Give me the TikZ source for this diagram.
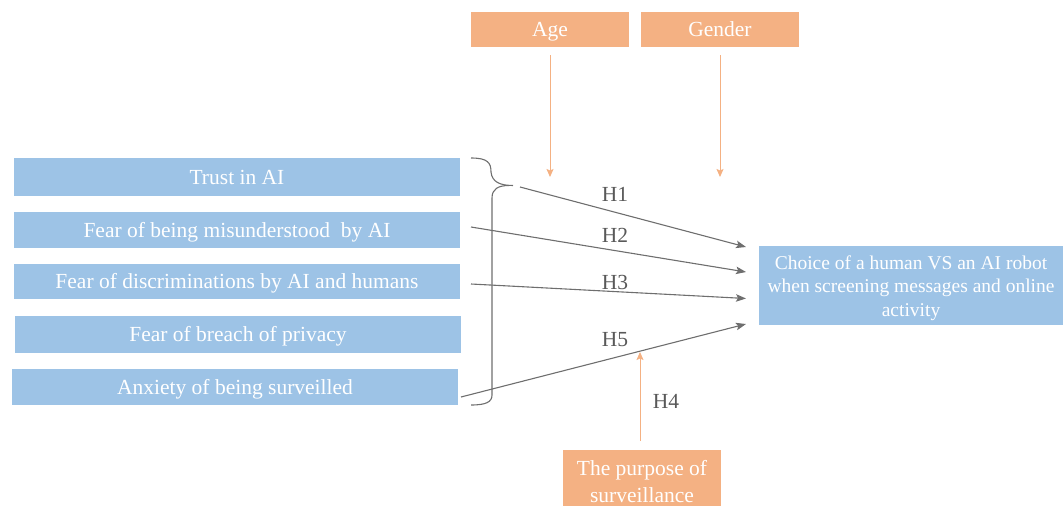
\documentclass[tikz,border=0pt]{standalone}
\usepackage{fontspec}
\setmainfont{Liberation Serif}
\usetikzlibrary{arrows.meta}
\definecolor{boxblue}{HTML}{9DC3E6}
\definecolor{boxorange}{HTML}{F4B183}
\definecolor{linegray}{HTML}{6E6E6E}
\definecolor{labgray}{HTML}{595959}
\begin{document}
\begin{tikzpicture}[x=1pt,y=-1pt,
  bluebox/.style={fill=boxblue, text=white, inner sep=0pt, align=center,
    font=\fontsize{21.5}{26}\selectfont, text height=14.3pt, text depth=0pt},
  choicebox/.style={fill=boxblue, text=white, inner sep=0pt, align=center,
    font=\fontsize{19.5}{23.5}\selectfont, text height=61.5pt, text depth=0pt},
  orangebox/.style={fill=boxorange, text=white, inner sep=0pt, align=center,
    font=\fontsize{21.5}{26.7}\selectfont, text height=14.3pt, text depth=0pt},
  hyparrow/.style={draw=linegray, line width=1.1pt, -{Stealth[length=10pt,width=7.5pt,inset=2pt]}},
  modarrow/.style={draw=boxorange, line width=1pt, -{Stealth[length=8pt,width=7pt,inset=1.5pt]}},
  hlabel/.style={text=labgray, font=\fontsize{21.5}{26}\selectfont, inner sep=0pt},
  bracepath/.style={draw=linegray, line width=1.1pt}
]
\useasboundingbox (0,0) rectangle (1064,506);

% moderator boxes
\node[orangebox, minimum width=158pt, minimum height=35pt] (age) at (550,29.5) {Age};
\node[orangebox, minimum width=158pt, minimum height=35pt] (gender) at (720,29.5) {Gender};
\node[orangebox, minimum width=158pt, minimum height=56pt, text height=48pt] (purpose) at (642,478) {The purpose of\\surveillance};

% predictor boxes
\node[bluebox, minimum width=446pt, minimum height=38pt] (trust) at (237,177) {Trust in AI};
\node[bluebox, minimum width=446pt, minimum height=36pt] (misund) at (237,230) {Fear of being misunderstood\ \ by AI};
\node[bluebox, minimum width=446pt, minimum height=35pt] (discr) at (237,281.5) {Fear of discriminations by AI and humans};
\node[bluebox, minimum width=446pt, minimum height=37pt] (privacy) at (238,334.5) {Fear of breach of privacy};
\node[bluebox, minimum width=446pt, minimum height=36pt] (anx) at (235,387) {Anxiety of being surveilled};

% outcome box
\node[choicebox, minimum width=304pt, minimum height=79pt] (choice) at (911,285.5) {Choice of a human VS an AI robot\\when screening messages and online\\activity};

% brace
\draw[bracepath] (471,158) .. controls (488,158) and (491,163) .. (491,172)
  .. controls (492,182) and (500,185.5) .. (513,185.5);
\draw[bracepath] (509,185.5) .. controls (498,185.5) and (492,189) .. (492,198)
  -- (492,395) .. controls (492,402) and (486,405) .. (471,405);

% coordinates
\coordinate (s1) at (520,187);
\coordinate (s2) at (471,227);
\coordinate (s3) at (471,284);
\coordinate (s5) at (461,397);
\coordinate (t1) at (746,247);
\coordinate (t2) at (746,272);
\coordinate (t3) at (746,298.5);
\coordinate (t5) at (746,324);
\coordinate (agetip) at (550,177);
\coordinate (gendertip) at (720,177);
\coordinate (purposetip) at (640,352);
\coordinate (agestart) at (550,55);
\coordinate (genderstart) at (720,55);
\coordinate (purposestart) at (640,441);

% hypothesis arrows
\draw[hyparrow] (s1) -- (t1);
\draw[hyparrow] (s2) -- (t2);
\draw[hyparrow] (s3) -- (t3);
\draw[hyparrow] (s5) -- (t5);

% moderator arrows
\draw[modarrow] (agestart) -- (agetip);
\draw[modarrow] (genderstart) -- (gendertip);
\draw[modarrow] (purposestart) -- (purposetip);

% labels
\node[hlabel] (h1) at (615,194) {H1};
\node[hlabel] (h2) at (615,235.5) {H2};
\node[hlabel] (h3) at (615,282.5) {H3};
\node[hlabel] (h5) at (615,339.5) {H5};
\node[hlabel] (h4) at (666,401) {H4};
\end{tikzpicture}
\end{document}
